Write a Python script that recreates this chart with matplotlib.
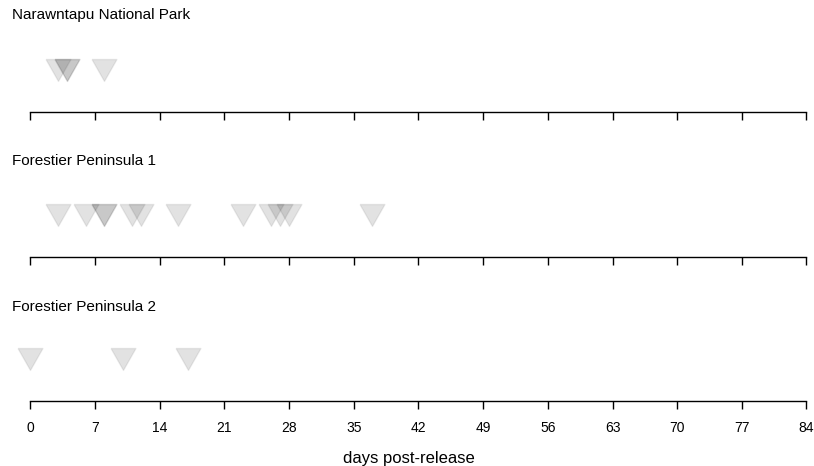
import numpy as np
import matplotlib
matplotlib.use('Agg')
import matplotlib.pyplot as plt

plt.rcParams['font.family'] = ['Liberation Sans', 'DejaVu Sans']

# Detection days for each release site (days post-release)
sites = ['Narawntapu National Park', 'Forestier Peninsula 1', 'Forestier Peninsula 2']
days_nnp = [3, 4, 4, 8]
days_fp1 = [3, 6, 8, 8, 11, 12, 16, 23, 26, 27, 28, 37]
days_fp2 = [0, 10, 17]
ticks = np.arange(0, 85, 7)

W, H = 814, 466
fig = plt.figure(figsize=(W / 100, H / 100), dpi=100)

# downward triangle, a bit wider than tall
tri = [(-1, 0.88), (1, 0.88), (0, -0.88), (-1, 0.88)]

line_y = [111.7, 256.7, 400.7]  # pixel rows of the axis lines
title_y = [15, 161, 307]
left = 30.5 / W
width = (806.5 - 30.5) / W
ph = 60  # panel height in px

all_days = [days_nnp, days_fp1, days_fp2]
for i in range(3):
    ax = fig.add_axes([left, 1 - line_y[i] / H, width, ph / H])
    d = all_days[i]
    ax.plot(d, np.full(len(d), 42 / ph), linestyle='none', marker=tri,
            markersize=18, markerfacecolor=(0, 0, 0, 0.115),
            markeredgecolor=(0, 0, 0, 0.07), markeredgewidth=1, clip_on=False)
    ax.set_xlim(0, 84)
    ax.set_ylim(0, 1)
    for s in ['top', 'left', 'right']:
        ax.spines[s].set_visible(False)
    ax.spines['bottom'].set_linewidth(1.0)
    ax.set_yticks([])
    ax.set_xticks(ticks)
    ax.tick_params(axis='x', direction='out', length=5.8, width=1.0, pad=9,
                   labelsize=10)
    if i < 2:
        ax.set_xticklabels([])
    fig.text(12 / W, 1 - title_y[i] / H, sites[i], fontsize=11, va='center', ha='left')

fig.text(409 / W, 1 - 458 / H, 'days post-release', fontsize=12,
         ha='center', va='center')

fig.savefig('out.png', dpi=100)
